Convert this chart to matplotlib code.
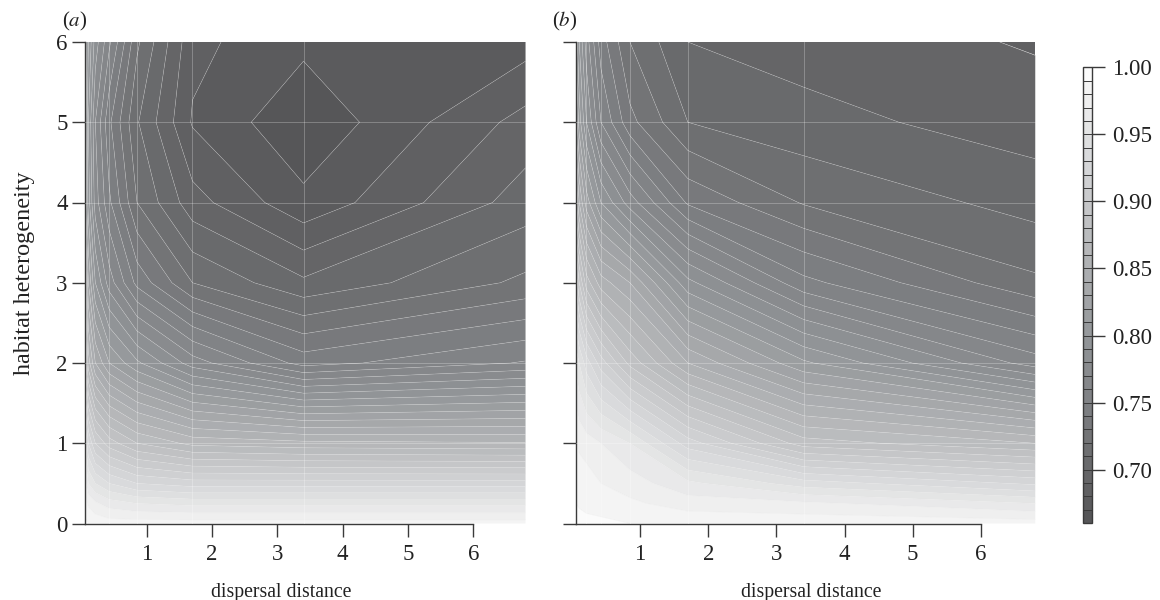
import numpy as np
import matplotlib
matplotlib.use("Agg")
import matplotlib.pyplot as plt
from matplotlib.colors import LinearSegmentedColormap

plt.rcParams['font.family'] = ['Liberation Serif', 'DejaVu Serif']
plt.rcParams['mathtext.fontset'] = 'stix'

dispersal = [0.053, 0.106, 0.2125, 0.425, 0.85, 1.7, 3.4, 6.8]
heterogeneity = [0, 0.25, 0.5, 1, 2, 3, 4, 5, 6]

# panel (a): one list per dispersal distance, bottom to top
a_x0 = [.992, .985, .975, .955, .900, .870, .835, .830, .835]
a_x1 = [.990, .978, .960, .930, .865, .830, .805, .800, .810]
a_x2 = [.987, .972, .950, .910, .840, .800, .775, .770, .785]
a_x3 = [.985, .965, .940, .895, .820, .775, .752, .742, .762]
a_x4 = [.985, .960, .930, .880, .802, .747, .720, .711, .722]
a_x5 = [.985, .957, .925, .867, .775, .720, .694, .679, .6826]
a_x6 = [.985, .957, .925, .863, .746, .702, .6725, .662, .6725]
a_x7 = [.985, .957, .925, .861, .761, .7223, .7048, .6937, .6757]

# panel (b)
b_x0 = [.994, .990, .987, .981, .958, .920, .875, .840, .820]
b_x1 = [.993, .989, .986, .978, .950, .900, .850, .815, .800]
b_x2 = [.992, .988, .985, .975, .935, .875, .825, .790, .775]
b_x3 = [.992, .986, .980, .970, .915, .855, .800, .760, .745]
b_x4 = [.990, .982, .975, .960, .887, .840, .775, .733, .720]
b_x5 = [.988, .975, .9625, .925, .850, .793, .7385, .710, .700]
b_x6 = [.987, .972, .945, .885, .812, .753, .7191, .7035, .6955]
b_x7 = [.985, .960, .928, .870, .765, .722, .706, .695, .689]

levels = np.round(np.arange(0.66, 1.0001, 0.01), 2)
cbar_ticks = [0.70, 0.75, 0.80, 0.85, 0.90, 0.95, 1.00]
x_ticks = [1, 2, 3, 4, 5, 6]
y_ticks = [0, 1, 2, 3, 4, 5, 6]
seam_x_a = [0.425, 0.85, 1.7, 3.4]
seam_x_b = [0.2125, 0.425, 0.85, 1.7, 3.4]
seam_y = [1, 2, 4, 5]

cmap = LinearSegmentedColormap.from_list('greys', [
    (0.00, '#545456'), (0.12, '#68686a'), (0.26, '#7e8083'), (0.41, '#939699'),
    (0.56, '#aeb0b2'), (0.71, '#c8c9cb'), (0.85, '#e0e1e2'), (0.97, '#f6f6f6'),
    (1.00, '#ffffff')])

W, H = 1160, 600
fig = plt.figure(figsize=(W / 100, H / 100), dpi=100)
def add_axes(l, t, r, b):
    return fig.add_axes([l / W, 1 - b / H, (r - l) / W, (b - t) / H])

ink = '#3a3a3a'
text_col = '#222222'
fs_label = 14.2
fs_tick = 16.5

def panel(ax, columns, seams, label_x):
    Z = np.array(columns).T
    cf = ax.contourf(dispersal, heterogeneity, Z, levels=levels, cmap=cmap,
                     vmin=0.66, vmax=1.0, antialiased=True)
    ax.contour(dispersal, heterogeneity, Z, levels=levels[1:-1], colors='#e4e4e4',
               linewidths=0.4, alpha=0.38)
    for v in seams:
        ax.axvline(v, color='#ffffff', lw=0.7, alpha=0.26, zorder=3)
    for v in seam_y:
        ax.axhline(v, color='#ffffff', lw=0.7, alpha=0.26, zorder=3)
    ax.set_xlim(0.054, 6.83)
    ax.set_ylim(0, 6)
    for s in ['top', 'right']:
        ax.spines[s].set_visible(False)
    for s in ['left', 'bottom']:
        ax.spines[s].set_color(ink)
        ax.spines[s].set_linewidth(1.0)
    ax.spines['bottom'].set_bounds(0.054, 6)
    ax.set_xticks(x_ticks)
    ax.set_yticks(y_ticks)
    ax.tick_params(axis='both', length=9.5, width=1.0, color=ink, labelsize=fs_tick,
                   labelcolor=text_col, pad=3)
    ax.tick_params(axis='x', pad=5)
    ax.set_xlabel('dispersal distance', fontsize=fs_label, color=text_col, labelpad=13, x=label_x)
    return cf

ax_a = add_axes(85, 42, 527.5, 523.5)
ax_b = add_axes(575.7, 42, 1037.3, 523.5)
cf = panel(ax_a, [a_x0, a_x1, a_x2, a_x3, a_x4, a_x5, a_x6, a_x7], seam_x_a, 0.444)
panel(ax_b, [b_x0, b_x1, b_x2, b_x3, b_x4, b_x5, b_x6, b_x7], seam_x_b, 0.51)
ax_b.set_yticklabels([])
ax_a.set_ylabel('habitat heterogeneity', fontsize=17.4, color=text_col, labelpad=15, y=0.52)

fig.text(62 / W, 1 - 21 / H, r'($\mathit{a}$)', fontsize=15, va='center', color=text_col)
fig.text(552 / W, 1 - 21 / H, r'($\mathit{b}$)', fontsize=15, va='center', color=text_col)

cax = add_axes(1082.8, 67.3, 1092.3, 523.3)
cb = fig.colorbar(cf, cax=cax, drawedges=True, ticks=cbar_ticks)
cb.ax.set_ylim(0.66, 1.0)
cb.ax.set_yticklabels(['%.2f' % t for t in cbar_ticks])
cb.ax.tick_params(length=9.5, width=1.0, color=ink, labelsize=fs_tick,
                  labelcolor=text_col, pad=5)
cb.dividers.set_color(ink)
cb.dividers.set_linewidth(0.7)
cb.outline.set_edgecolor(ink)
cb.outline.set_linewidth(1.0)

fig.savefig('out.png', dpi=100)
